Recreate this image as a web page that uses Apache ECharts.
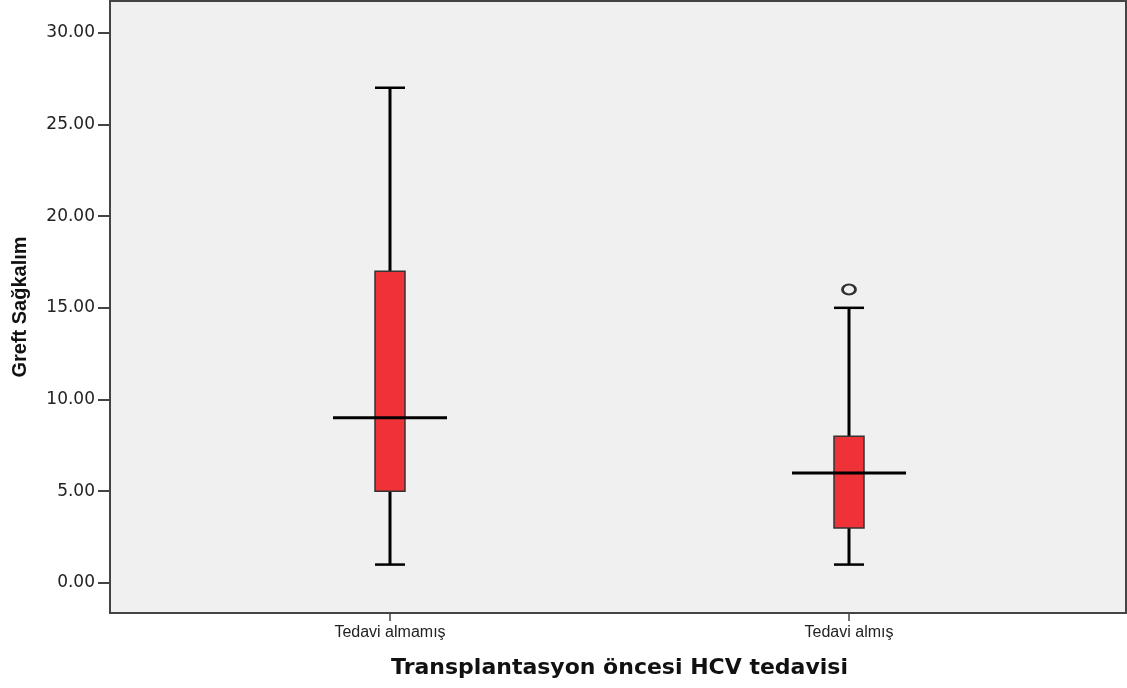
<!DOCTYPE html>
<html>
<head>
<meta charset="utf-8">
<title>Greft Sağkalım</title>
<script src="https://cdn.jsdelivr.net/npm/echarts@6/dist/echarts.min.js"></script>
<style>
  html, body { margin: 0; padding: 0; background: #ffffff; }
  #chart { width: 1127px; height: 688px; }
</style>
</head>
<body>
<div id="chart"></div>
<script>
// Graft survival by pre-transplant HCV treatment
const categories = ['Tedavi almamış', 'Tedavi almış'];
const whiskerLow = [1, 1];
const q1 = [5, 3];
const median = [9, 6];
const q3 = [17, 8];
const whiskerHigh = [27, 15];
const outlierCategory = ['Tedavi almış'];
const outlierValue = [16];
const yTicks = [0, 5, 10, 15, 20, 25, 30];

const yMin = -1.64;
const yMax = 31.73;

const boxData = categories.map((c, i) => [i, whiskerLow[i], q1[i], median[i], q3[i], whiskerHigh[i]]);
const outlierData = outlierCategory.map((c, i) => [categories.indexOf(c), outlierValue[i]]);

const BOX_HALF = 15;
const MEDIAN_HALF = 57;

function renderBox(params, api) {
  const idx = api.value(0);
  const pLo = api.coord([idx, api.value(1)]);
  const pQ1 = api.coord([idx, api.value(2)]);
  const pMed = api.coord([idx, api.value(3)]);
  const pQ3 = api.coord([idx, api.value(4)]);
  const pHi = api.coord([idx, api.value(5)]);
  const x = pMed[0];
  const lineStyle = { stroke: '#000000', lineWidth: 3 };
  return {
    type: 'group',
    children: [
      { type: 'line', shape: { x1: x, y1: pHi[1], x2: x, y2: pQ3[1] }, style: lineStyle },
      { type: 'line', shape: { x1: x, y1: pQ1[1], x2: x, y2: pLo[1] }, style: lineStyle },
      { type: 'line', shape: { x1: x - BOX_HALF, y1: pHi[1], x2: x + BOX_HALF, y2: pHi[1] }, style: { stroke: '#000000', lineWidth: 2.5 } },
      { type: 'line', shape: { x1: x - BOX_HALF, y1: pLo[1], x2: x + BOX_HALF, y2: pLo[1] }, style: { stroke: '#000000', lineWidth: 2.5 } },
      { type: 'rect', shape: { x: x - BOX_HALF, y: pQ3[1], width: BOX_HALF * 2, height: pQ1[1] - pQ3[1] },
        style: { fill: '#ee3237', stroke: '#333333', lineWidth: 1.5 } },
      { type: 'line', shape: { x1: x - MEDIAN_HALF, y1: pMed[1], x2: x + MEDIAN_HALF, y2: pMed[1] }, style: lineStyle }
    ]
  };
}

const chart = echarts.init(document.getElementById('chart'), null, { renderer: 'canvas' });

chart.setOption({
  animation: false,
  backgroundColor: '#ffffff',
  grid: [
    // frame with the value axis
    { left: 110, right: 1, top: 1, bottom: 75, show: true, backgroundColor: '#f0f0f0', borderColor: '#444444', borderWidth: 2, containLabel: false },
    // category layout for the boxes
    { left: 160.5, right: 48.5, top: 1, bottom: 75, show: false, containLabel: false }
  ],
  xAxis: [
    { gridIndex: 0, type: 'value', min: 0, max: 1, show: false },
    {
      gridIndex: 1,
      type: 'category',
      data: categories,
      boundaryGap: true,
      position: 'bottom',
      axisLine: { show: false, onZero: false },
      axisTick: { show: true, alignWithLabel: true, length: 8, lineStyle: { color: '#444444', width: 1.5 } },
      axisLabel: { margin: 12, fontFamily: 'Liberation Sans', fontSize: 16, color: '#222222' },
      name: 'Transplantasyon öncesi HCV tedavisi',
      nameLocation: 'middle',
      nameGap: 44,
      nameTextStyle: { fontFamily: 'DejaVu Sans', fontWeight: 'bold', fontSize: 22, color: '#111111' }
    }
  ],
  yAxis: [
    {
      gridIndex: 0,
      type: 'value',
      min: yMin,
      max: yMax,
      axisLine: { show: true, lineStyle: { color: '#444444', width: 2 } },
      axisTick: { show: true, customValues: yTicks, length: 12, lineStyle: { color: '#444444', width: 2 } },
      axisLabel: {
        customValues: yTicks,
        margin: 15,
        fontFamily: 'DejaVu Sans',
        fontSize: 17,
        color: '#222222',
        formatter: v => Number(v).toFixed(2)
      },
      splitLine: { show: false },
      name: 'Greft Sağkalım',
      nameLocation: 'middle',
      nameGap: 80,
      nameRotate: 90,
      nameTextStyle: { fontFamily: 'Liberation Sans', fontWeight: 'bold', fontSize: 20, color: '#111111' }
    },
    { gridIndex: 1, type: 'value', min: yMin, max: yMax, show: false, splitLine: { show: false } }
  ],
  series: [
    {
      type: 'custom',
      xAxisIndex: 1,
      yAxisIndex: 1,
      data: boxData,
      encode: { x: 0, y: [1, 2, 3, 4, 5] },
      renderItem: renderBox,
      z: 3
    },
    {
      type: 'scatter',
      xAxisIndex: 1,
      yAxisIndex: 1,
      data: outlierData,
      symbol: 'circle',
      symbolSize: [13, 10],
      itemStyle: { color: '#f0f0f0', borderColor: '#000000', borderWidth: 2.5 },
      z: 4
    }
  ]
});
</script>
</body>
</html>
